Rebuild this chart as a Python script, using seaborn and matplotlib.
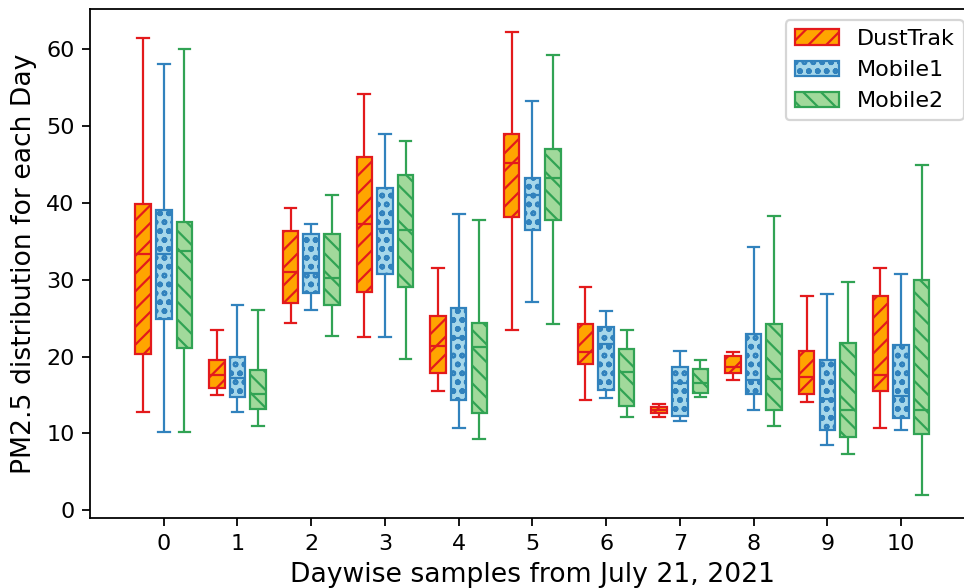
"""
Daily PM2.5 distributions: DustTrak reference vs. two mobile sensors.

Each box is drawn from its five-number summary (min, q1, median, q3, max)
as read off the original figure, with whiskers spanning min..max.
"""

import matplotlib
matplotlib.use("Agg")
import matplotlib.pyplot as plt
from matplotlib.patches import Patch
import pandas as pd
import seaborn as sns

DAYS = list(range(11))
DEVICES = ["DustTrak", "Mobile1", "Mobile2"]

# DustTrak summaries per day
DUSTTRAK_MIN = [12.8, 15.0, 24.4, 22.5, 15.5, 23.5, 14.3, 12.2, 17.0, 14.1, 10.7]
DUSTTRAK_Q1 = [20.3, 15.9, 27.0, 28.4, 17.8, 38.1, 19.0, 12.6, 17.9, 15.1, 15.5]
DUSTTRAK_MED = [33.4, 17.6, 31.0, 37.2, 21.4, 45.2, 20.6, 13.1, 18.6, 17.4, 17.6]
DUSTTRAK_Q3 = [39.9, 19.6, 36.3, 45.9, 25.3, 48.9, 24.3, 13.5, 20.1, 20.7, 27.9]
DUSTTRAK_MAX = [61.4, 23.5, 39.3, 54.2, 31.5, 62.2, 29.0, 13.8, 20.6, 27.9, 31.5]

# Mobile1 summaries per day
MOBILE1_MIN = [10.2, 12.8, 26.0, 22.5, 10.7, 27.1, 14.6, 11.6, 13.1, 8.5, 10.5]
MOBILE1_Q1 = [24.9, 14.7, 28.3, 30.7, 14.3, 36.5, 15.6, 12.3, 15.1, 10.5, 12.0]
MOBILE1_MED = [33.3, 17.2, 30.9, 36.6, 22.4, 41.0, 21.7, 16.6, 17.0, 14.5, 14.9]
MOBILE1_Q3 = [39.0, 19.9, 36.0, 41.9, 26.3, 43.2, 23.8, 18.7, 23.0, 19.5, 21.5]
MOBILE1_MAX = [58.1, 26.7, 37.2, 49.0, 38.5, 53.3, 25.9, 20.7, 34.2, 28.2, 30.7]

# Mobile2 summaries per day
MOBILE2_MIN = [10.2, 11.0, 22.7, 19.7, 9.3, 24.2, 12.1, 14.7, 11.0, 7.3, 2.0]
MOBILE2_Q1 = [21.1, 13.2, 26.7, 29.1, 12.7, 37.7, 13.6, 15.2, 13.0, 9.6, 9.9]
MOBILE2_MED = [33.7, 15.1, 30.2, 36.4, 21.2, 43.2, 18.0, 16.5, 17.1, 13.1, 13.0]
MOBILE2_Q3 = [37.5, 18.3, 35.9, 43.6, 24.4, 47.0, 21.0, 18.4, 24.3, 21.8, 30.0]
MOBILE2_MAX = [60.0, 26.0, 41.0, 48.1, 37.8, 59.2, 23.4, 19.5, 38.3, 29.7, 44.9]

SUMMARIES = {
    "DustTrak": [DUSTTRAK_MIN, DUSTTRAK_Q1, DUSTTRAK_MED, DUSTTRAK_Q3, DUSTTRAK_MAX],
    "Mobile1": [MOBILE1_MIN, MOBILE1_Q1, MOBILE1_MED, MOBILE1_Q3, MOBILE1_MAX],
    "Mobile2": [MOBILE2_MIN, MOBILE2_Q1, MOBILE2_MED, MOBILE2_Q3, MOBILE2_MAX],
}

FACE_COLORS = {"DustTrak": "#ffa500", "Mobile1": "#a6d7ea", "Mobile2": "#a1d99b"}
EDGE_COLORS = {"DustTrak": "#e31a1c", "Mobile1": "#3182bd", "Mobile2": "#31a354"}
HATCHES = {"DustTrak": "///", "Mobile1": "ooo", "Mobile2": "\\\\\\"}

DPI = 160
TICK_SIZE = 10
LABEL_SIZE = 12


def build_frame():
    """Long-form frame: five values per (device, day) reproduce the summary."""
    rows = []
    for device, stats in SUMMARIES.items():
        for day in DAYS:
            for series in stats:
                rows.append({"day": day, "device": device, "pm25": series[day]})
    return pd.DataFrame(rows)


def main():
    df = build_frame()

    fig = plt.figure(figsize=(964 / DPI, 588 / DPI), dpi=DPI)
    ax = fig.add_axes([0.0934, 0.119, 0.9177, 0.8656])

    for device in DEVICES:
        n_before = len(ax.patches)
        sns.boxplot(
            data=df[df["device"] == device], x="day", y="pm25",
            hue="device", hue_order=DEVICES, order=DAYS,
            palette=FACE_COLORS, saturation=1, linecolor=EDGE_COLORS[device],
            dodge=True, width=0.84, gap=0.25, whis=(0, 100),
            linewidth=1.0, fliersize=0, capwidths=0.16,
            legend=False, ax=ax,
        )
        for patch in ax.patches[n_before:]:
            patch.set_hatch(HATCHES[device])

    ax.set_xlim(-1, 11)
    ax.set_ylim(-1.0, 65.2)
    ax.set_xlabel("Daywise samples from July 21, 2021", fontsize=LABEL_SIZE)
    ax.set_ylabel("PM2.5 distribution for each Day", fontsize=LABEL_SIZE)
    ax.tick_params(labelsize=TICK_SIZE)

    handles = [
        Patch(facecolor=FACE_COLORS[d], edgecolor=EDGE_COLORS[d],
              hatch=HATCHES[d], linewidth=1.0, label=d)
        for d in DEVICES
    ]
    ax.legend(handles=handles, loc="upper right", fontsize=TICK_SIZE)

    fig.savefig("out.png", dpi=DPI)
    plt.close(fig)


if __name__ == "__main__":
    main()
